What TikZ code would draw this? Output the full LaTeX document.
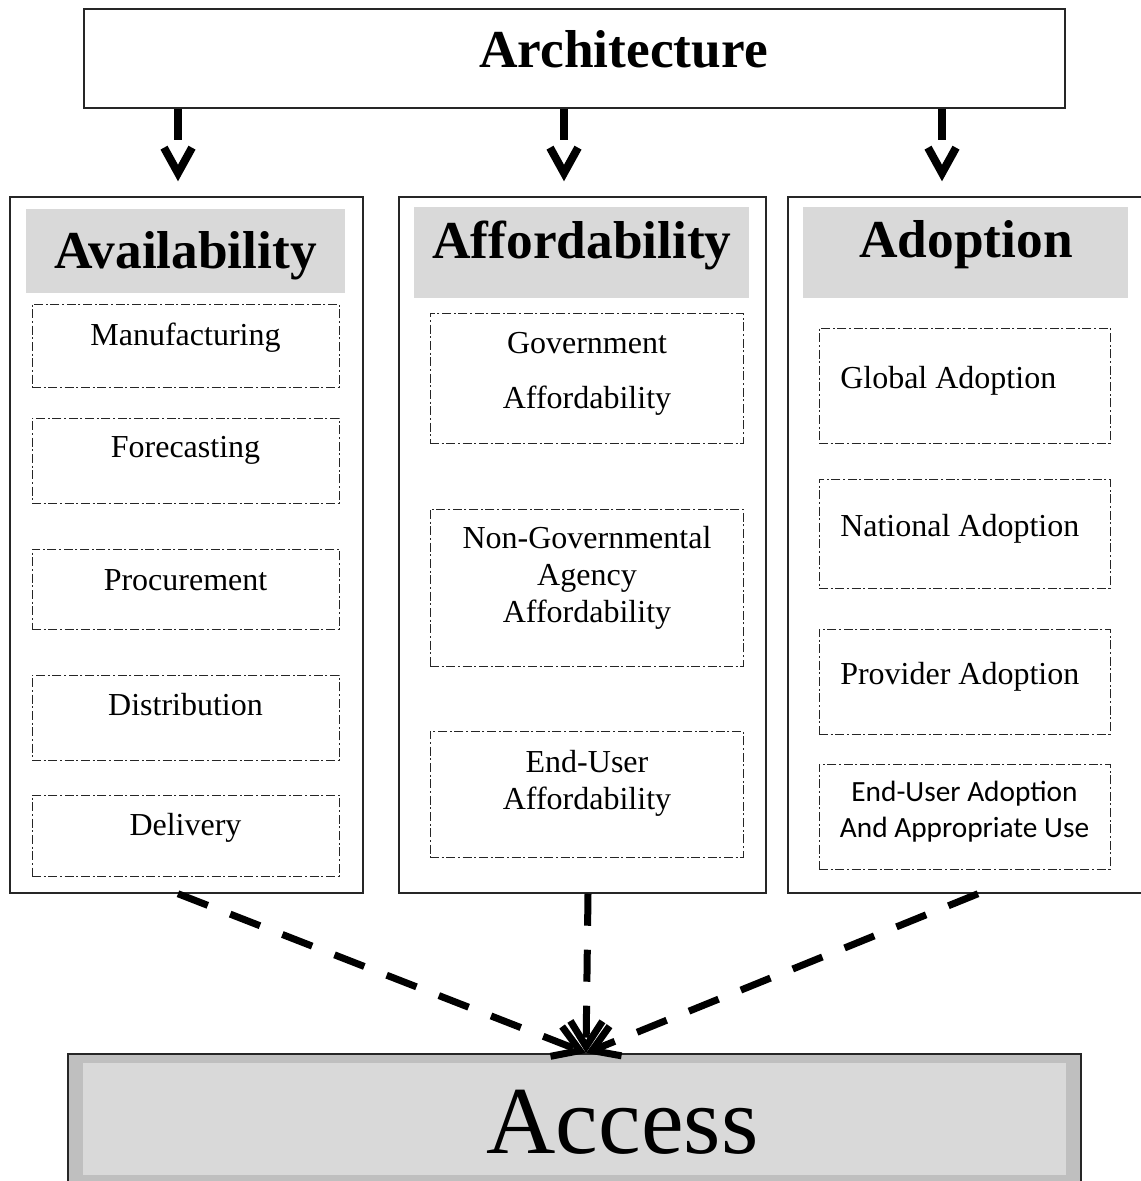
\documentclass[tikz,border=0pt]{standalone}
\usepackage{fontspec}
\setmainfont{Liberation Serif}
\newfontfamily\calibrifont{Carlito}
\usetikzlibrary{arrows.meta,fit,decorations.markings}

\definecolor{hdgray}{RGB}{217,217,217}
\definecolor{accgray}{RGB}{191,191,191}
\definecolor{lnclr}{RGB}{38,38,38}

\tikzset{
  colbox/.style={draw=lnclr, line width=1.1pt, inner sep=0pt},
  headbox/.style={fill=hdgray, inner sep=0pt},
  subbox/.style={draw=lnclr, line width=0.75pt, inner sep=0pt, dash pattern=on 6.75pt off 2pt on 1.5pt off 2pt},
  headtxt/.style={font=\fontsize{40}{46}\selectfont\bfseries, inner sep=0pt, anchor=base},
  subtxt/.style={font=\fontsize{24}{27.6}\selectfont, inner sep=0pt, anchor=base, align=center},
  toparrow/.style={line width=6pt, shorten >=27.5pt,
    postaction={decorate, decoration={markings, mark=at position 1 with {
      \draw[line width=6pt, shorten >=0pt, line join=miter] (-22pt,-10.5pt) -- (-3pt,0pt) -- (-22pt,10.5pt);}}}},
  botarrow/.style={line width=5.25pt, dash pattern=on 24pt off 18pt, -{Straight Barb[length=19pt,width=24pt]}}
}

\begin{document}
\begin{tikzpicture}[x=0.75pt,y=0.75pt,yscale=-1,xscale=1]
\useasboundingbox (0,0) rectangle (1141,1181);
\clip (0,0) rectangle (1141,1181);

% Top box
\node[colbox, line width=1pt, fit={(84,9) (1065,108)}] (arch) {};
\node[headtxt] (arch-t) at (623.5,68) {Architecture};

% Availability
\node[colbox, fit={(10,197) (363,893)}] (avail) {};
\node[headbox, fit={(26,209) (345,293)}] (avail-h) {};
\node[headtxt] (avail-t) at (185.5,268) {Availability};
\node[subbox, fit={(32,304) (339,387)}] (manuf) {};
\node[subtxt] (manuf-t) at (185.5,345) {Manufacturing};
\node[subbox, fit={(32,418) (339,503)}] (forec) {};
\node[subtxt] (forec-t) at (185.5,457) {Forecasting};
\node[subbox, fit={(32,549) (339,629)}] (procu) {};
\node[subtxt] (procu-t) at (185.5,590) {Procurement};
\node[subbox, fit={(32,675) (339,760)}] (distr) {};
\node[subtxt] (distr-t) at (185.5,715) {Distribution};
\node[subbox, fit={(32,795) (339,876)}] (deliv) {};
\node[subtxt] (deliv-t) at (185.5,835) {Delivery};

% Affordability
\node[colbox, fit={(399,197) (766,893)}] (afford) {};
\node[headbox, fit={(414,207) (749,298)}] (afford-h) {};
\node[headtxt] (afford-t) at (582,258) {Affordability};
\node[subbox, fit={(430,313) (743,443)}] (govt) {};
\node[subtxt, font=\fontsize{24}{41.25}\selectfont] (govt-t) at (587,408) {Government\\Affordability};
\node[subbox, fit={(430,509) (743,666)}] (ngo) {};
\node[subtxt] (ngo-t) at (587,622) {Non-Governmental\\Agency\\Affordability};
\node[subbox, fit={(430,731) (743,857)}] (enduser) {};
\node[subtxt] (enduser-t) at (587,809) {End-User\\Affordability};

% Adoption
\node[colbox, fit={(788,197) (1165,893)}] (adopt) {};
\node[headbox, fit={(803,207) (1128,298)}] (adopt-h) {};
\node[headtxt] (adopt-t) at (966,257) {Adoption};
\node[subbox, fit={(819,328) (1110,443)}] (global) {};
\node[subtxt, anchor=base west] (global-t) at (840,388) {Global Adoption};
\node[subbox, fit={(819,479) (1110,588)}] (natl) {};
\node[subtxt, anchor=base west] (natl-t) at (840,536) {National Adoption};
\node[subbox, fit={(819,629) (1110,734)}] (prov) {};
\node[subtxt, anchor=base west] (prov-t) at (840,684) {Provider Adoption};
\node[subbox, fit={(819,764) (1110,869)}] (enduse) {};
\node[subtxt, font=\calibrifont\fontsize{22}{27}\selectfont] (enduse-t) at (964.5,837) {End-User Adoption\\And Appropriate Use};

% Access
\node[draw=lnclr, line width=1.5pt, fill=accgray, inner sep=0pt, fit={(68,1054) (1081,1190)}] (access) {};
\node[fill=hdgray, inner sep=0pt, fit={(83,1063) (1066,1175)}] (access-in) {};
\node[inner sep=0pt, anchor=base, font=\fontsize{72}{80}\selectfont] (access-t) at (622.5,1153) {Access};

% Arrows
\coordinate (a1) at (178,177);
\coordinate (a2) at (564,177);
\coordinate (a3) at (942,177);
\coordinate (hub) at (586,1053);

\draw[toparrow] (arch.south -| a1) -- (a1);
\draw[toparrow] (arch.south -| a2) -- (a2);
\draw[toparrow] (arch.south -| a3) -- (a3);

\draw[botarrow] (avail.south -| 178,0) -- (hub);
\draw[botarrow] (afford.south -| 588,0) -- (hub);
\draw[botarrow] (adopt.south -| 978,0) -- (hub);

\end{tikzpicture}
\end{document}
